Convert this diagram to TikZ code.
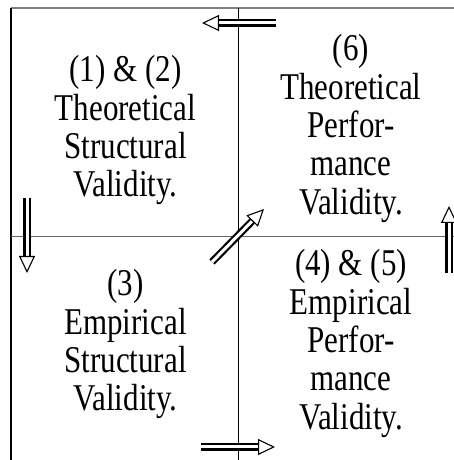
\documentclass[tikz,border=0pt]{standalone}
\usepackage{fontspec}
\setmainfont{Liberation Serif}
\usepackage{tikz}
\usetikzlibrary{arrows.meta}
\tikzset{
  dblarrow/.style={line width=2.2pt, double distance=3pt, -{Triangle[open,length=17pt,width=16pt,line width=1.1pt]}},
  quadtext/.style={anchor=base, inner sep=0pt}
}
\newcommand{\quadlines}[1]{\scalebox{1}[1.22]{\fontsize{31}{31.4}\selectfont\begin{tabular}[t]{@{}c@{}}#1\end{tabular}}}

\begin{document}
\begin{tikzpicture}[x=1pt,y=1pt]
\useasboundingbox (0,0) rectangle (454,460);
\draw[gray, line width=1.6pt] (11,452) -- (454,452);
\draw[line width=1.2pt] (11,452) -- (11,0);
\draw[gray!80!black] (11,224) -- (454,224);
\draw (238,452) -- (238,0);
\node[quadtext] (struct) at (125.5,378) {\quadlines{(1) \& (2)\\Theoretical\\Structural\\Validity.}};
\node[quadtext] (perf) at (351,399) {\quadlines{(6)\\Theoretical\\Perfor-\\mance\\Validity.}};
\node[quadtext] (empstruct) at (125.5,164) {\quadlines{(3)\\Empirical\\Structural\\Validity.}};
\node[quadtext] (empperf) at (351,184) {\quadlines{(4) \& (5)\\Empirical\\Perfor-\\mance\\Validity.}};
\coordinate (topstart) at (276,437);
\coordinate (topend) at (202,437);
\coordinate (leftstart) at (27,262);
\coordinate (leftend) at (27,187);
\coordinate (diagstart) at (212,198);
\coordinate (diagend) at (264,251);
\coordinate (botstart) at (201,13);
\coordinate (botend) at (275,13);
\coordinate (rightstart) at (449,187);
\coordinate (rightend) at (449,254);
\draw[dblarrow] (topstart) -- (topend);
\draw[dblarrow] (leftstart) -- (leftend);
\draw[dblarrow] (diagstart) -- (diagend);
\draw[dblarrow] (botstart) -- (botend);
\draw[dblarrow] (rightstart) -- (rightend);
\end{tikzpicture}
\end{document}
